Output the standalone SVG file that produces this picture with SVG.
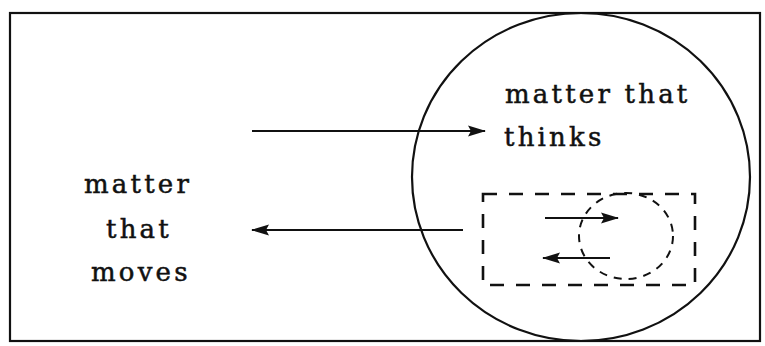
<svg xmlns="http://www.w3.org/2000/svg" width="765" height="346" viewBox="0 0 765 346">
<style>
.ln{fill:none;stroke:#111;stroke-width:2.2}
.dash{fill:none;stroke:#111;stroke-width:2.6;stroke-dasharray:14 12}
.dc{fill:none;stroke:#111;stroke-width:2;stroke-dasharray:8 7}
.t{font-family:"DejaVu Serif",serif;font-size:26px;letter-spacing:3.2px;fill:#111;stroke:#111;stroke-width:0.5}
</style>
<defs>
<marker id="ah" viewBox="0 0 18 12" refX="17" refY="6" markerWidth="18" markerHeight="12" markerUnits="userSpaceOnUse" orient="auto">
<path d="M0,0.5 L18,6 L0,11.5 L3,6 Z" fill="#111"/>
</marker>
</defs>
<rect x="0" y="0" width="765" height="346" fill="#fff"/>
<g id="frame"><rect x="10" y="13" width="750" height="328" class="ln"/></g>
<g id="thinks-circle"><ellipse cx="581" cy="177" rx="169" ry="164" class="ln"/></g>
<g id="inner-box"><rect x="483" y="194" width="212" height="91" class="dash"/></g>
<g id="inner-circle"><ellipse cx="626" cy="236" rx="47" ry="43" class="dc"/></g>
<g id="label-moves">
<text class="t" x="84" y="193">matter</text>
<text class="t" x="106" y="238">that</text>
<text class="t" x="91" y="281">moves</text>
</g>
<g id="label-thinks">
<text class="t" x="505" y="103">matter that</text>
<text class="t" x="504" y="146">thinks</text>
</g>
<g id="connectors">
<line x1="252" y1="131" x2="485" y2="131" class="ln" marker-end="url(#ah)"/>
<line x1="463" y1="230" x2="252" y2="230" class="ln" marker-end="url(#ah)"/>
<line x1="545" y1="218" x2="618" y2="218" class="ln" marker-end="url(#ah)"/>
<line x1="610" y1="258" x2="543" y2="258" class="ln" marker-end="url(#ah)"/>
</g>
</svg>
